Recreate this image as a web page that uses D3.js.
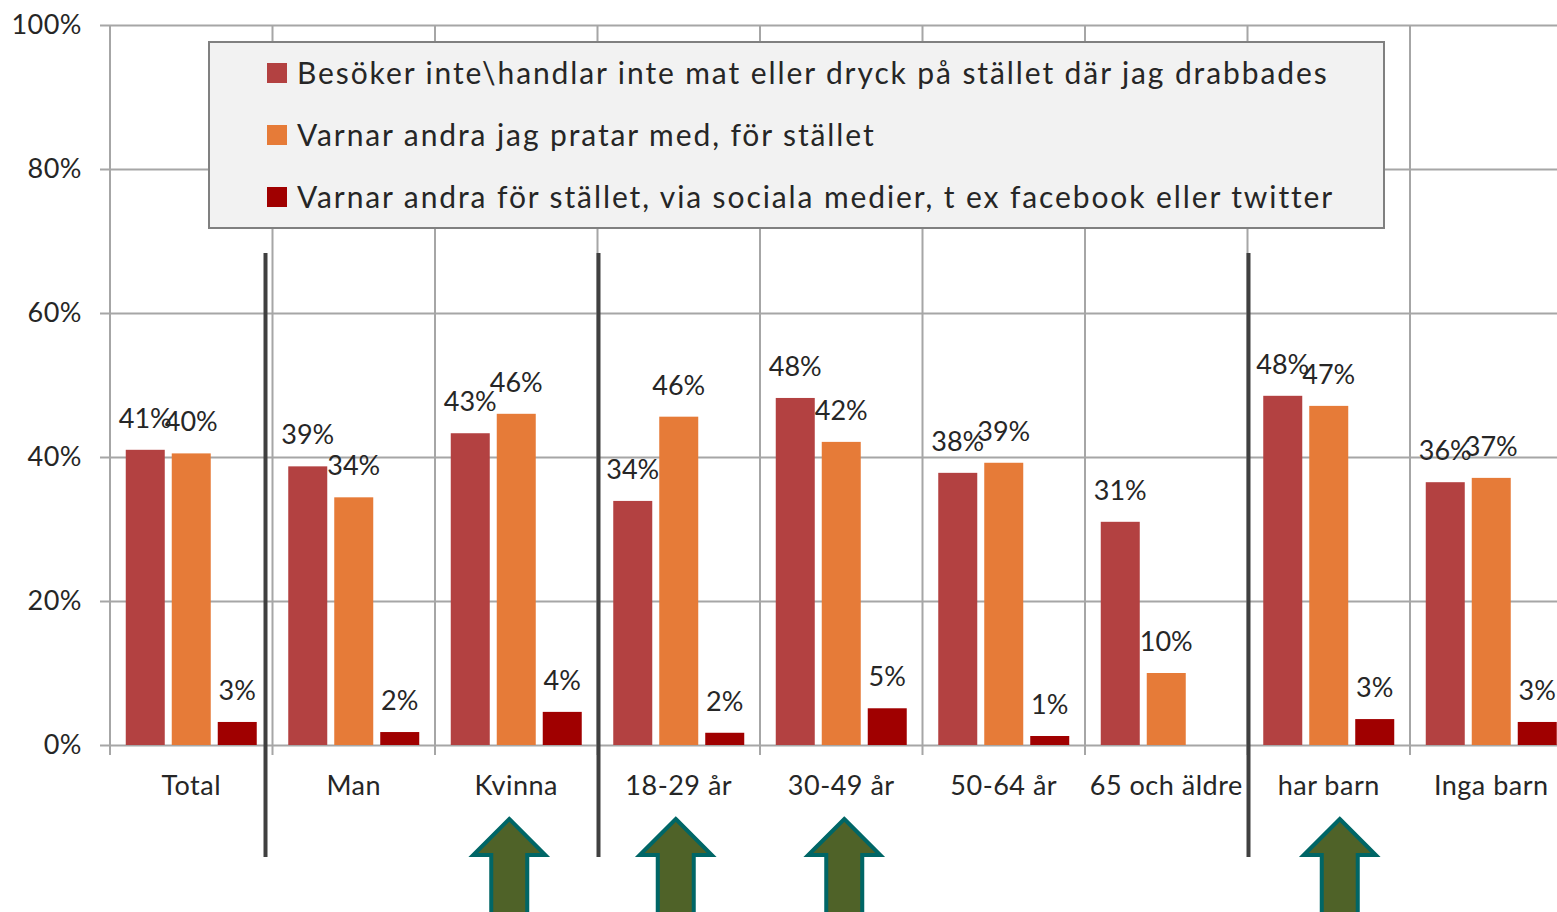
<!DOCTYPE html>
<html><head><meta charset="utf-8">
<script src="https://cdn.jsdelivr.net/npm/d3@7"></script>
<style>body{margin:0;background:#fff}svg{display:block}text{font-family:Lato,"Open Sans",sans-serif;fill:#262626}</style>
</head><body>
<script>
const categories = ["Total","Man","Kvinna","18-29 år","30-49 år","50-64 år","65 och äldre","har barn","Inga barn"];
const seriesNames = [
  "Besöker inte\\handlar inte mat eller dryck på stället där jag drabbades",
  "Varnar andra jag pratar med, för stället",
  "Varnar andra för stället, via sociala medier, t ex facebook eller twitter"
];
const besoker = [41, 38.7, 43.3, 33.9, 48.2, 37.8, 31, 48.5, 36.5];
const varnarPratar = [40.5, 34.4, 46, 45.6, 42.1, 39.2, 10, 47.1, 37.1];
const varnarSociala = [3.2, 1.8, 4.6, 1.7, 5.1, 1.25, null, 3.6, 3.2];
const labelsBesoker = ["41%","39%","43%","34%","48%","38%","31%","48%","36%"];
const labelsPratar = ["40%","34%","46%","46%","42%","39%","10%","47%","37%"];
const labelsSociala = ["3%","2%","4%","2%","5%","1%","","3%","3%"];
const yTicks = [0,20,40,60,80,100];
const separatorsBefore = ["Man","18-29 år","har barn"];
const separatorShift = [-7, 1, 1];
const arrowsAt = ["Kvinna","18-29 år","30-49 år","har barn"];
const arrowShift = [-7, -3, 3, 11];

const colors = ["#b34141","#e67b38","#a00000"];
const W = 1557, H = 912;
const svg = d3.select("body").append("svg").attr("width",W).attr("height",H);

const y = d3.scaleLinear().domain([0,100]).range([745,25]);
const x = d3.scaleBand().domain(categories).range([110,1572.5]).padding(0);
const xi = d3.scaleBand().domain([0,1,2]).range([0,x.bandwidth()]).paddingInner(0.152).paddingOuter(0.3425);

const grid = svg.append("g");
const yAxis = d3.axisLeft(y).tickValues(yTicks).tickSize(-(W-110)).tickFormat(d=>d+"%").tickPadding(28);
const gy = svg.append("g").attr("transform","translate(110,0)").call(yAxis);
gy.select(".domain").remove();
gy.selectAll(".tick line").attr("stroke","#a6a6a6").attr("stroke-width",2).attr("x1",-10);
gy.selectAll(".tick text").attr("font-size",27).attr("fill","#262626").style("font-family","Lato").attr("letter-spacing","0.5px");
const edges = categories.map(c=>x(c));
grid.selectAll("line.v").data(edges).join("line")
  .attr("x1",d=>d).attr("x2",d=>d).attr("y1",y(100)).attr("y2",y(0)+10)
  .attr("stroke","#a6a6a6").attr("stroke-width",2);

const series = [besoker, varnarPratar, varnarSociala];
const labels = [labelsBesoker, labelsPratar, labelsSociala];
series.forEach((vals,si)=>{
  const g = svg.append("g");
  g.selectAll("rect").data(categories.map((c,i)=>({c,v:vals[i]})).filter(d=>d.v!=null)).join("rect")
    .attr("x",d=>x(d.c)+xi(si)).attr("width",xi.bandwidth())
    .attr("y",d=>y(d.v)).attr("height",d=>y(0)-y(d.v)).attr("fill",colors[si]);
});
series.forEach((vals,si)=>{
  const g = svg.append("g");
  g.selectAll("text").data(categories.map((c,i)=>({c,v:vals[i],l:labels[si][i]})).filter(d=>d.v!=null&&d.l)).join("text")
    .attr("x",d=>x(d.c)+xi(si)+xi.bandwidth()/2).attr("y",d=>y(d.v)-22)
    .attr("text-anchor","middle").attr("font-size",27).text(d=>d.l);
});

svg.append("g").selectAll("text").data(categories).join("text")
  .attr("x",d=>x(d)+x.bandwidth()/2).attr("y",795).attr("text-anchor","middle")
  .attr("font-size",27).attr("letter-spacing","0.5px").text(d=>d);

svg.append("g").selectAll("line").data(separatorsBefore).join("line")
  .attr("x1",(d,i)=>x(d)+separatorShift[i]).attr("x2",(d,i)=>x(d)+separatorShift[i]).attr("y1",253).attr("y2",857)
  .attr("stroke","#404040").attr("stroke-width",4);

const lg = svg.append("g");
lg.append("rect").attr("x",209).attr("y",42).attr("width",1175).attr("height",186)
  .attr("fill","#f2f2f2").attr("stroke","#808080").attr("stroke-width",2);
const rowY = [73,135,197];
seriesNames.forEach((n,i)=>{
  lg.append("rect").attr("x",267).attr("y",rowY[i]-10).attr("width",20).attr("height",20).attr("fill",colors[i]);
  lg.append("text").attr("x",297).attr("y",rowY[i]).attr("dy","0.36em").attr("font-size",30)
    .attr("letter-spacing","1.9px").attr("fill","#000").text(n);
});

const ag = svg.append("g");
arrowsAt.forEach((c,i)=>{
  const cx = x(c)+x.bandwidth()/2+arrowShift[i];
  const pts = [[cx,819],[cx+36,855],[cx+18,855],[cx+18,920],[cx-18,920],[cx-18,855],[cx-36,855]];
  ag.append("polygon").attr("points",pts.map(p=>p.join(",")).join(" "))
    .attr("fill","#4f6228").attr("stroke","#006666").attr("stroke-width",4).attr("stroke-linejoin","miter");
});
</script>
</body></html>
